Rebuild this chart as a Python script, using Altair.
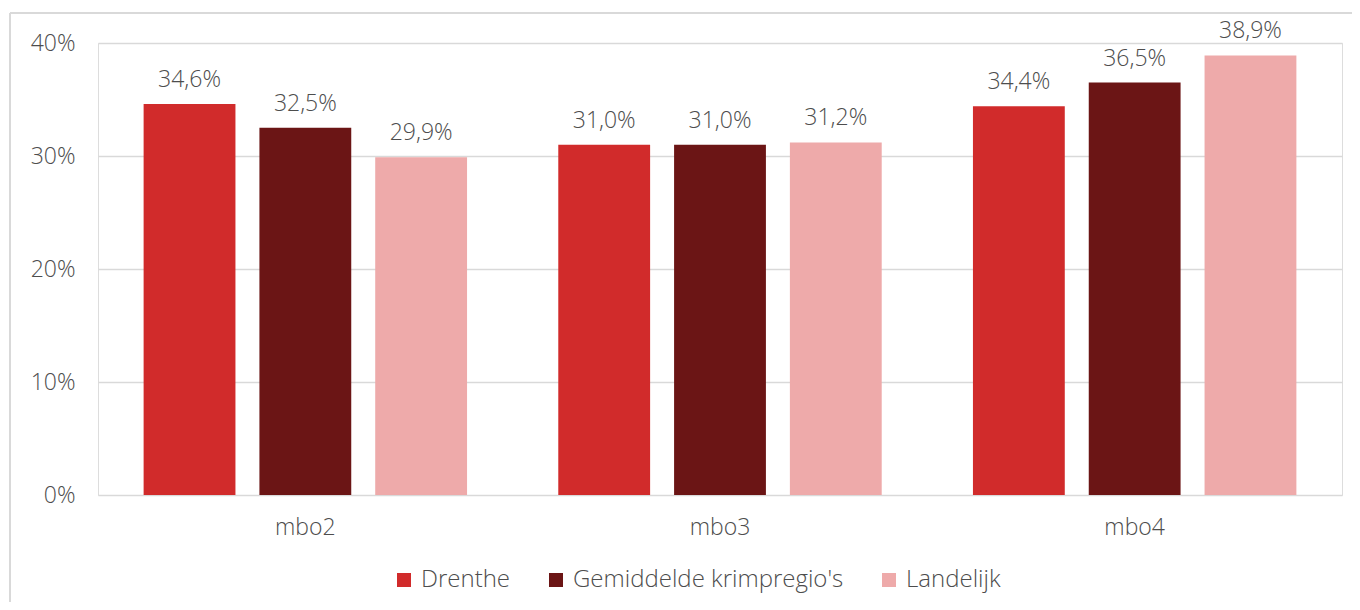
import altair as alt
import pandas as pd

categories = ["mbo2", "mbo3", "mbo4"]
series = ["Drenthe", "Gemiddelde krimpregio's", "Landelijk"]
drenthe = [34.6, 31.0, 34.4]
krimp = [32.5, 31.0, 36.5]
landelijk = [29.9, 31.2, 38.9]
colors = ["#D12B2B", "#6B1515", "#EEAAAA"]
y_ticks = [0, 10, 20, 30, 40]

rows = []
for s, vals in zip(series, [drenthe, krimp, landelijk]):
    for c, v in zip(categories, vals):
        rows.append({"cat": c, "series": s, "value": v,
                     "label": f"{v:.1f}".replace(".", ",") + "%"})
df = pd.DataFrame(rows)

FONT = "Open Sans"
TXT = "#4D4D4D"
FS = 23
FW = 300

x = alt.X("cat:N", sort=categories, title=None,
          scale=alt.Scale(paddingInner=0.22, paddingOuter=0.11),
          axis=alt.Axis(labelFontSize=FS, labelColor=TXT, labelFont=FONT,
                        labelFontWeight=FW,
                        labelPadding=21, ticks=False, domain=False, labelAngle=0))
xo = alt.XOffset("series:N", sort=series,
                 scale=alt.Scale(paddingInner=0.207, paddingOuter=0))
y = alt.Y("value:Q", title=None,
          scale=alt.Scale(domain=[0, 40], nice=False),
          axis=alt.Axis(values=y_ticks, labelExpr="datum.value + '%'",
                        labelFontSize=FS, labelColor=TXT, labelFont=FONT,
                        labelFontWeight=FW,
                        labelPadding=23, ticks=False, domain=False,
                        grid=True, gridColor="#D9D9D9", gridWidth=1.5))
color = alt.Color("series:N", sort=series,
                  scale=alt.Scale(domain=series, range=colors),
                  legend=alt.Legend(title=None, orient="none", direction="horizontal",
                                    legendX=294, legendY=525,
                                    symbolType="square", symbolSize=196,
                                    symbolStrokeWidth=0, labelLimit=0,
                                    labelFontSize=24, labelColor=TXT, labelFont=FONT,
                                    labelFontWeight=FW,
                                    labelOffset=5, columnPadding=33))

base = alt.Chart(df)
bars = base.mark_bar().encode(x=x, xOffset=xo, y=y, color=color)
labels = base.mark_text(fontSize=FS, font=FONT, fontWeight=FW, color=TXT,
                        baseline="alphabetic", dy=-17).encode(
    x=x, xOffset=xo, y=y, text="label:N")

frame_left = alt.Chart(pd.DataFrame({"a": [0]})).mark_rule(
    color="#D9D9D9", strokeWidth=2).encode(
    x=alt.value(-88), y=alt.value(-30), y2=alt.value(600))
frame_top = alt.Chart(pd.DataFrame({"a": [0]})).mark_rule(
    color="#D9D9D9", strokeWidth=2).encode(
    x=alt.value(-88), x2=alt.value(1300), y=alt.value(-30))

chart = alt.layer(bars, labels, frame_left, frame_top).properties(
    width=1244, height=452,
    autosize=alt.AutoSizeParams(type="none"),
    padding={"left": 90, "top": 35, "right": 10, "bottom": 107},
).configure_view(stroke=None).configure(font=FONT)

chart.save("out.html", embed_options={"renderer": "svg", "actions": False})
